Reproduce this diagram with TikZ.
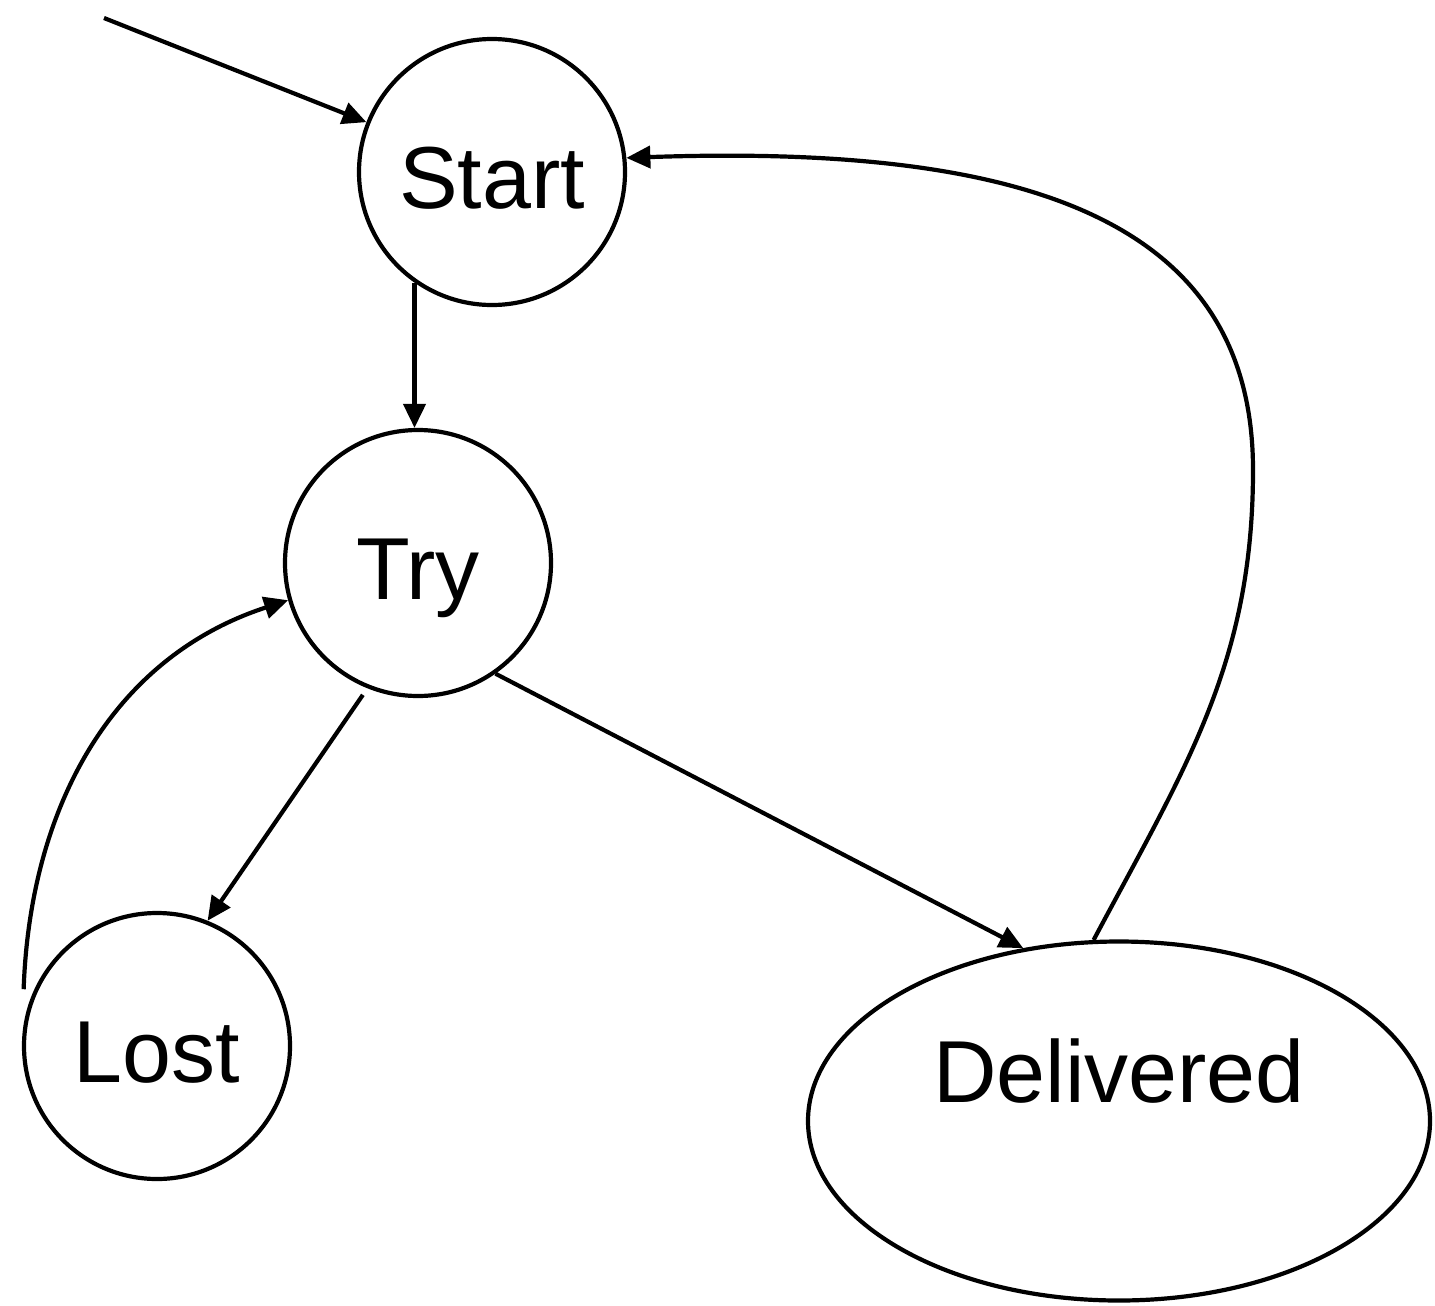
\documentclass[tikz,border=0pt]{standalone}
\usepackage{fontspec}
\setmainfont{Liberation Sans}
\usepackage{tikz}
\usetikzlibrary{shapes.geometric}
\usetikzlibrary{arrows.meta}

\begin{document}
\begin{tikzpicture}
		[x=0.5pt, y=0.5pt, line width=2.1pt, >={Triangle[length=12pt, width=11pt]},
		 main/.style = {draw, circle, minimum size=133pt, inner sep=0pt, text height=36pt, text depth=0pt, font=\fontsize{44}{52}\selectfont}]
	\useasboundingbox (0,0) rectangle (1435,-1306);
	\node[main] (1) at (492,-172) {Start};
	\node[main] (2) at (418,-563) {Try};
	\node[main] (3) at (157,-1046) {Lost};
	\node[main, ellipse, minimum width=311pt, minimum height=179.5pt, text depth=55pt] (4) at (1119,-1121) {Delivered};
	\coordinate (0) at (104,-18);
	\coordinate (5) at (1253,-470);
	\draw[->] (0) -- (1);
	\draw[->] (1.235) -- (1.235 |- 2.north);
	\draw[->, shorten <=4pt] (2.248) -- (3.68);
	\draw[->] (2.305) -- (4.119);
	\draw[->] ([xshift=-4.5pt, yshift=2pt]3.157) to[out=88, in=198] (2.196);
	\draw[->] (4.98) to[out=62, in=-90] (5) to[out=90, in=2, out distance=125pt, in distance=200pt] (1.6);
\end{tikzpicture}
\end{document}
